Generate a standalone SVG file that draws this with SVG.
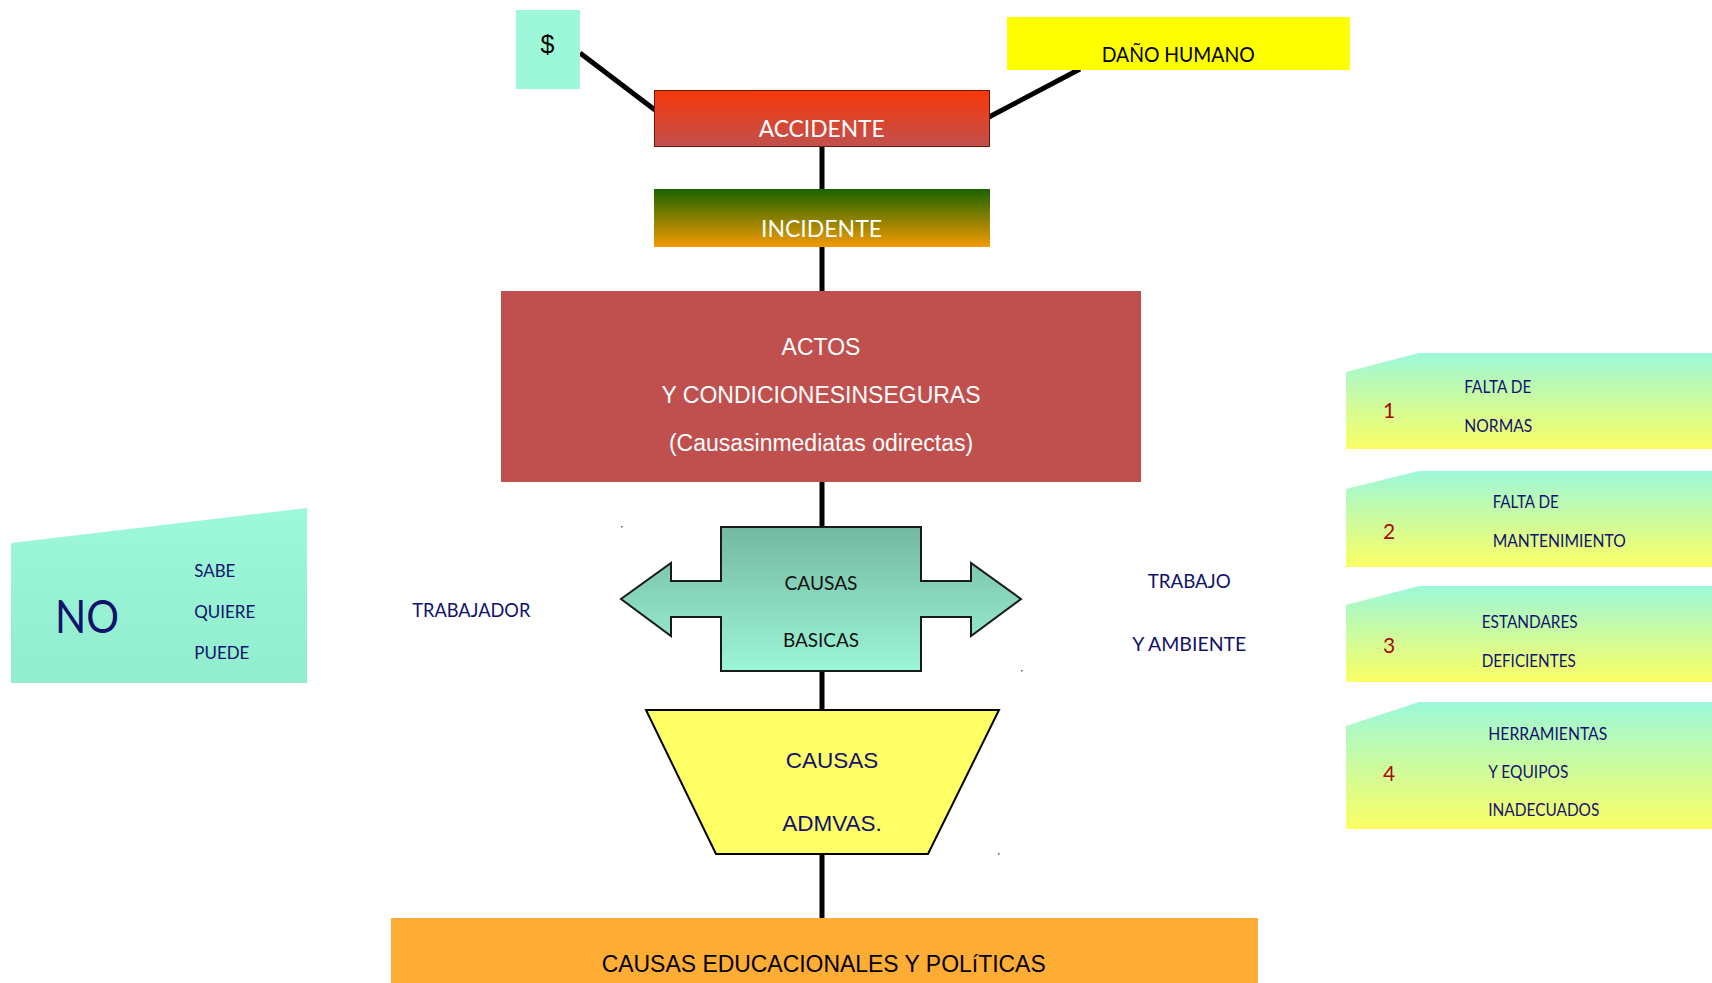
<svg xmlns="http://www.w3.org/2000/svg" width="1712" height="983" viewBox="0 0 1712 983">
<defs>
<linearGradient id="gAcc" x1="0" y1="0" x2="0" y2="1"><stop offset="0" stop-color="#F9380A"/><stop offset="1" stop-color="#C0504D"/></linearGradient>
<linearGradient id="gInc" x1="0" y1="0" x2="0" y2="1"><stop offset="0" stop-color="#1A6300"/><stop offset="1" stop-color="#F49B00"/></linearGradient>
<linearGradient id="gCB" x1="0" y1="0" x2="0" y2="1"><stop offset="0" stop-color="#74B9A1"/><stop offset="1" stop-color="#9CF5D8"/></linearGradient>
<linearGradient id="gNo" x1="0" y1="0" x2="0" y2="1"><stop offset="0" stop-color="#9DF9DA"/><stop offset="1" stop-color="#92ECCE"/></linearGradient>
<linearGradient id="gPan" x1="0" y1="0" x2="0" y2="1"><stop offset="0" stop-color="#9CF8DA"/><stop offset="1" stop-color="#FBFF64"/></linearGradient>
</defs>
<style>
.conn{stroke:#000;stroke-width:5;fill:none}
.cal{font-family:Lato,"Open Sans",sans-serif}
.ari{font-family:"Liberation Sans",Arial,sans-serif}
.navy{fill:#11116E}
.num{fill:#A80A0A;font-size:21px;text-anchor:middle}
.pt{font-size:17px}
.mid{text-anchor:middle}
.white{fill:#fff}
</style>
<rect width="1712" height="983" fill="#fff"/>
<g id="connectors">
<line class="conn" x1="580" y1="53" x2="655" y2="110" stroke-width="4"/>
<line class="conn" x1="1080" y1="69" x2="989" y2="117" stroke-width="4"/>
<line class="conn" x1="822" y1="146" x2="822" y2="190"/>
<line class="conn" x1="822" y1="246" x2="822" y2="291"/>
<line class="conn" x1="822" y1="481" x2="822" y2="528"/>
<line class="conn" x1="822" y1="670" x2="822" y2="711"/>
<line class="conn" x1="822" y1="853" x2="822" y2="919"/>
</g>
<g id="dollar">
<rect x="516" y="10" width="64" height="79" fill="#9DF8DA"/>
<text class="ari mid" x="547.5" y="53" font-size="25">$</text>
</g>
<g id="dano">
<rect x="1007" y="17" width="343" height="53" fill="#FFFF00"/>
<text class="cal" x="1101.7" y="62.3" font-size="21" textLength="153" lengthAdjust="spacingAndGlyphs">DAÑO HUMANO</text>
</g>
<g id="accidente">
<rect x="654.5" y="90.5" width="335" height="56" fill="url(#gAcc)" stroke="#6E1508" stroke-width="1"/>
<text class="cal white mid" x="821.7" y="137.3" font-size="23" textLength="126" lengthAdjust="spacingAndGlyphs">ACCIDENTE</text>
</g>
<g id="incidente">
<rect x="654" y="189" width="336" height="58" fill="url(#gInc)"/>
<text class="cal white mid" x="821.5" y="236.7" font-size="23" textLength="121" lengthAdjust="spacingAndGlyphs">INCIDENTE</text>
</g>
<g id="actos">
<rect x="501" y="291" width="640" height="191" fill="#C0504D"/>
<text class="ari white mid" x="821" y="355" font-size="23">ACTOS</text>
<text class="ari white mid" x="821" y="402.7" font-size="23">Y CONDICIONESINSEGURAS</text>
<text class="ari white mid" x="821" y="450.7" font-size="23">(Causasinmediatas odirectas)</text>
</g>
<g id="no-box">
<polygon points="11,543 307,508 307,683 11,683" fill="url(#gNo)"/>
<text class="cal navy" x="55" y="632.7" font-size="46" textLength="64" lengthAdjust="spacingAndGlyphs">NO</text>
<text class="cal navy" x="194.3" y="576.7" font-size="17.5" textLength="41" lengthAdjust="spacingAndGlyphs">SABE</text>
<text class="cal navy" x="194.3" y="618.3" font-size="17.5" textLength="61" lengthAdjust="spacingAndGlyphs">QUIERE</text>
<text class="cal navy" x="194.3" y="659.3" font-size="17.5" textLength="55" lengthAdjust="spacingAndGlyphs">PUEDE</text>
</g>
<g id="trabajador">
<text class="cal navy" x="412.3" y="616.7" font-size="19.5" textLength="118" lengthAdjust="spacingAndGlyphs">TRABAJADOR</text>
</g>
<g id="causas-basicas">
<polygon points="721,527 921,527 921,581 971,581 971,563 1021,599 971,636 971,617 921,617 921,671 721,671 721,617 671,617 671,636 621,599 671,563 671,581 721,581" fill="url(#gCB)" stroke="#1A1A1A" stroke-width="2" stroke-linejoin="miter"/>
<text class="cal mid" x="821" y="590" font-size="20" fill="#111" textLength="73" lengthAdjust="spacingAndGlyphs">CAUSAS</text>
<text class="cal mid" x="821" y="646.7" font-size="20" fill="#111" textLength="76" lengthAdjust="spacingAndGlyphs">BASICAS</text>
</g>
<g id="trabajo">
<text class="cal navy" x="1147.7" y="588.3" font-size="19.5" textLength="83" lengthAdjust="spacingAndGlyphs">TRABAJO</text>
<text class="cal navy" x="1132.3" y="650.7" font-size="19.5" textLength="114" lengthAdjust="spacingAndGlyphs">Y AMBIENTE</text>
</g>
<g id="causas-admvas">
<polygon points="646,710 999,710 928,854 716,854" fill="#FFFF66" stroke="#000" stroke-width="2"/>
<text class="ari navy mid" x="832" y="768.3" font-size="22.5">CAUSAS</text>
<text class="ari navy mid" x="832" y="830.7" font-size="22.5">ADMVAS.</text>
</g>
<g id="causas-educacionales">
<rect x="391" y="918" width="867" height="65" fill="#FFAD35"/>
<text class="ari mid" x="823.7" y="972.3" font-size="23" fill="#000" textLength="444" lengthAdjust="spacingAndGlyphs">CAUSAS EDUCACIONALES Y POLíTICAS</text>
</g>
<g id="panel-1">
<polygon points="1346,372 1419,353 1712,353 1712,449 1346,449" fill="url(#gPan)"/>
<text class="cal num" x="1389" y="418">1</text>
<text class="cal navy pt" x="1464.3" y="393.3" textLength="67" lengthAdjust="spacingAndGlyphs">FALTA DE</text>
<text class="cal navy pt" x="1464.3" y="432.3" textLength="68" lengthAdjust="spacingAndGlyphs">NORMAS</text>
</g>
<g id="panel-2">
<polygon points="1346,489 1419,471 1712,471 1712,567 1346,567" fill="url(#gPan)"/>
<text class="cal num" x="1389" y="538.7">2</text>
<text class="cal navy pt" x="1492.7" y="507.7" textLength="66" lengthAdjust="spacingAndGlyphs">FALTA DE</text>
<text class="cal navy pt" x="1492.7" y="547.3" textLength="133" lengthAdjust="spacingAndGlyphs">MANTENIMIENTO</text>
</g>
<g id="panel-3">
<polygon points="1346,605 1419,586 1712,586 1712,682 1346,682" fill="url(#gPan)"/>
<text class="cal num" x="1389" y="653.3">3</text>
<text class="cal navy pt" x="1481.7" y="628.3" textLength="96" lengthAdjust="spacingAndGlyphs">ESTANDARES</text>
<text class="cal navy pt" x="1481.7" y="666.7" textLength="94" lengthAdjust="spacingAndGlyphs">DEFICIENTES</text>
</g>
<g id="panel-4">
<polygon points="1346,726 1419,702 1712,702 1712,829 1346,829" fill="url(#gPan)"/>
<text class="cal num" x="1389" y="781">4</text>
<text class="cal navy pt" x="1488.3" y="740" textLength="119" lengthAdjust="spacingAndGlyphs">HERRAMIENTAS</text>
<text class="cal navy pt" x="1488.3" y="778.3" textLength="80" lengthAdjust="spacingAndGlyphs">Y EQUIPOS</text>
<text class="cal navy pt" x="1488.3" y="816" textLength="111" lengthAdjust="spacingAndGlyphs">INADECUADOS</text>
</g>
<g id="specks" fill="#555">
<rect x="621" y="526" width="1.5" height="1.5"/>
<rect x="1021" y="670" width="1.5" height="1.5"/>
<rect x="998" y="853" width="1.5" height="1.5"/>
</g>
</svg>
